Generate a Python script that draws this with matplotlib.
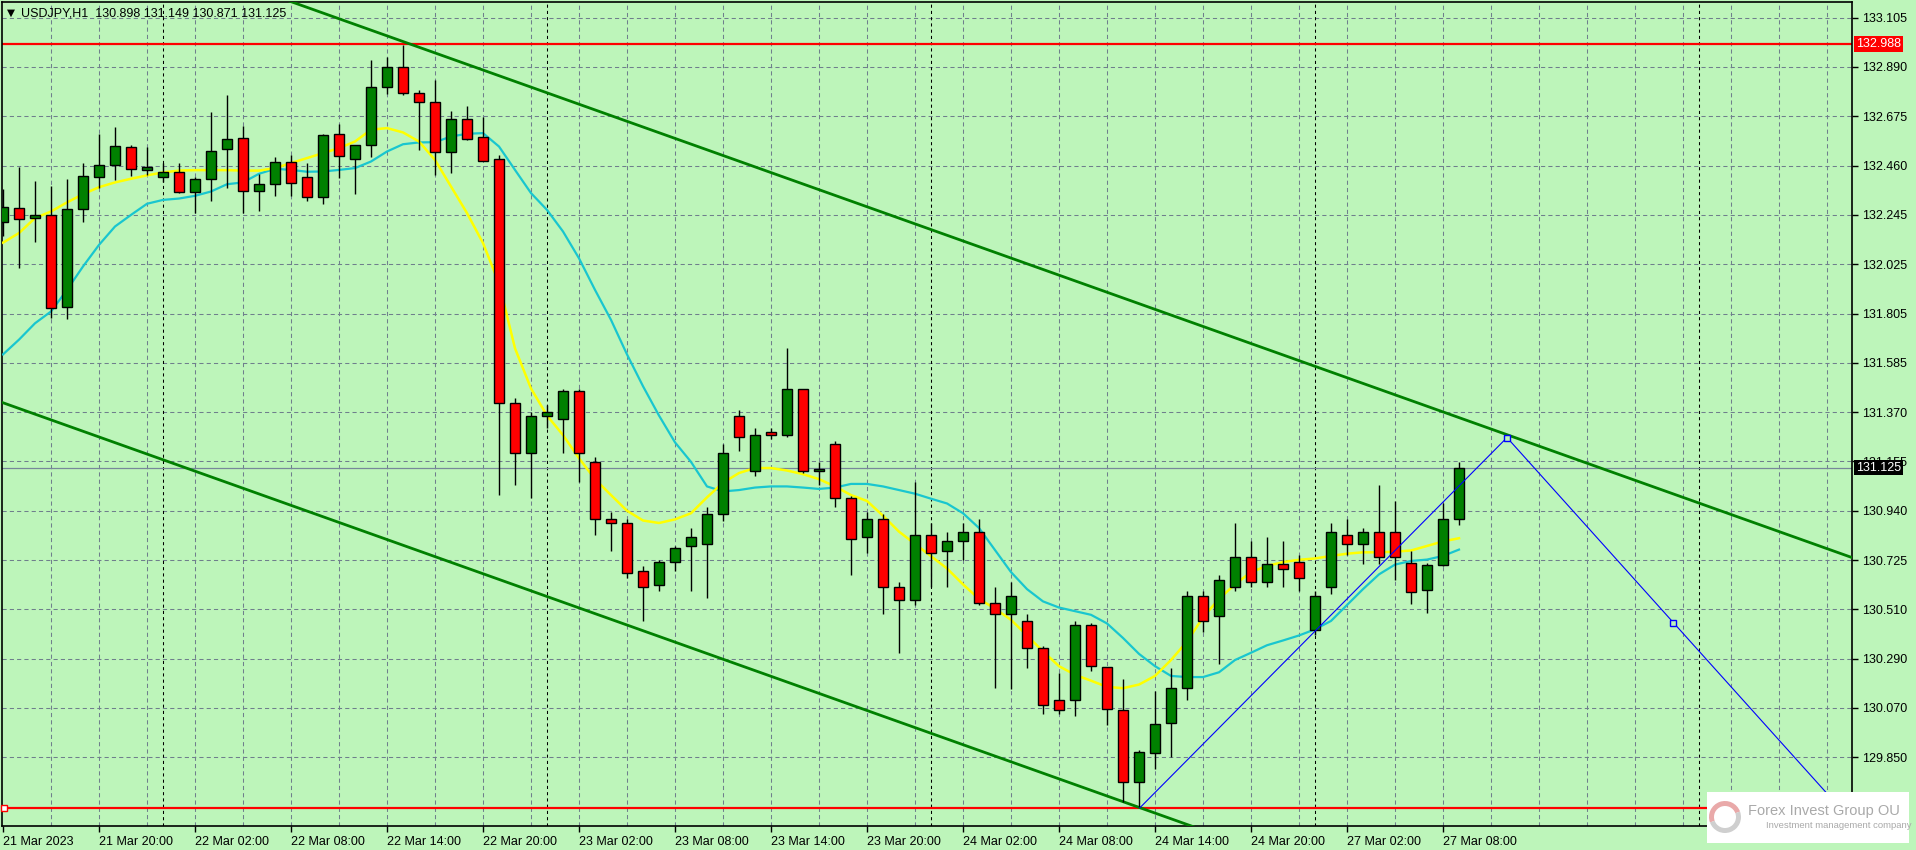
import numpy as np
import matplotlib
matplotlib.use('Agg')
import matplotlib.pyplot as plt
from matplotlib.patches import Rectangle, Wedge

plt.rcParams['font.family'] = ['Liberation Sans', 'DejaVu Sans']

# USDJPY H1, bar 0 = 21 Mar 14:00 (weekend skipped)
opens = [132.205, 132.267, 132.223, 132.237, 131.831, 132.262, 132.402, 132.456, 132.537, 132.434,
         132.403, 132.427, 132.336, 132.393, 132.526, 132.576, 132.341, 132.372, 132.469, 132.405,
         132.315, 132.594, 132.482, 132.544, 132.799, 132.888, 132.773, 132.733, 132.513, 132.659,
         132.579, 132.482, 131.410, 131.190, 131.350, 131.340, 131.460, 131.150, 130.900, 130.880,
         130.670, 130.610, 130.710, 130.780, 130.790, 130.920, 131.350, 131.110, 131.280, 131.270,
         131.470, 131.110, 131.230, 130.990, 130.820, 130.900, 130.600, 130.540, 130.830, 130.760,
         130.800, 130.840, 130.530, 130.480, 130.450, 130.330, 130.100, 130.100, 130.430, 130.246,
         130.060, 129.740, 129.870, 130.000, 130.154, 130.560, 130.470, 130.600, 130.730, 130.620,
         130.700, 130.710, 130.410, 130.600, 130.830, 130.790, 130.840, 130.840, 130.704, 130.585,
         130.695, 130.898]
highs = [132.352, 132.450, 132.387, 132.365, 132.396, 132.465, 132.594, 132.622, 132.544, 132.538,
         132.465, 132.465, 132.403, 132.692, 132.766, 132.629, 132.416, 132.494, 132.501, 132.465,
         132.592, 132.637, 132.546, 132.917, 132.932, 132.986, 132.788, 132.832, 132.695, 132.717,
         132.666, 132.500, 131.430, 131.370, 131.400, 131.470, 131.470, 131.170, 130.930, 130.900,
         130.690, 130.720, 130.780, 130.860, 130.950, 131.230, 131.380, 131.300, 131.300, 131.650,
         131.470, 131.150, 131.240, 131.000, 130.930, 130.920, 130.620, 131.060, 130.880, 130.840,
         130.880, 130.900, 130.600, 130.620, 130.480, 130.340, 130.220, 130.450, 130.440, 130.246,
         130.194, 129.880, 130.140, 130.243, 130.580, 130.580, 130.650, 130.880, 130.800, 130.820,
         130.800, 130.740, 130.580, 130.880, 130.900, 130.860, 131.050, 130.980, 130.759, 130.705,
         130.971, 131.149]
lows = [132.142, 132.002, 132.116, 131.782, 131.778, 132.204, 132.355, 132.391, 132.409, 132.413,
        132.384, 132.333, 132.245, 132.296, 132.355, 132.245, 132.256, 132.322, 132.321, 132.299,
        132.284, 132.399, 132.330, 132.494, 132.770, 132.766, 132.521, 132.413, 132.421, 132.566,
        132.474, 131.004, 131.050, 130.990, 131.300, 131.190, 131.060, 130.830, 130.760, 130.640,
        130.450, 130.580, 130.670, 130.580, 130.550, 130.890, 131.200, 131.090, 131.250, 131.260,
        131.100, 131.050, 130.950, 130.650, 130.750, 130.480, 130.310, 130.520, 130.600, 130.600,
        130.720, 130.520, 130.156, 130.150, 130.243, 130.040, 130.040, 130.030, 130.231, 129.990,
        129.655, 129.632, 129.800, 129.850, 130.100, 130.400, 130.260, 130.580, 130.600, 130.600,
        130.600, 130.580, 130.390, 130.570, 130.740, 130.700, 130.700, 130.630, 130.525, 130.484,
        130.690, 130.871]
closes = [132.271, 132.218, 132.237, 131.826, 132.262, 132.408, 132.457, 132.541, 132.438, 132.447,
          132.424, 132.337, 132.396, 132.519, 132.572, 132.341, 132.374, 132.469, 132.377, 132.315,
          132.590, 132.496, 132.544, 132.799, 132.888, 132.773, 132.733, 132.513, 132.659, 132.569,
          132.474, 131.408, 131.190, 131.350, 131.370, 131.460, 131.190, 130.900, 130.880, 130.660,
          130.600, 130.710, 130.770, 130.820, 130.920, 131.190, 131.260, 131.270, 131.270, 131.470,
          131.110, 131.120, 130.990, 130.810, 130.900, 130.600, 130.540, 130.830, 130.750, 130.800,
          130.840, 130.530, 130.480, 130.560, 130.330, 130.080, 130.060, 130.430, 130.252, 130.063,
          129.740, 129.875, 129.997, 130.154, 130.560, 130.450, 130.630, 130.730, 130.620, 130.700,
          130.680, 130.640, 130.560, 130.840, 130.790, 130.840, 130.730, 130.730, 130.579, 130.695,
          130.898, 131.125]

# yellow and cyan moving averages, one value per bar
ma_yellow = [132.115, 132.157, 132.223, 132.252, 132.292, 132.328, 132.359, 132.380, 132.396, 132.411,
             132.424, 132.432, 132.434, 132.434, 132.434, 132.432, 132.432, 132.443, 132.465, 132.487,
             132.509, 132.531, 132.560, 132.612, 132.619, 132.600, 132.560, 132.479, 132.362, 132.245,
             132.113, 131.936, 131.650, 131.473, 131.354, 131.268, 131.166, 131.074, 131.004, 130.935,
             130.892, 130.881, 130.897, 130.924, 130.994, 131.058, 131.101, 131.123, 131.123, 131.112,
             131.096, 131.074, 131.042, 131.004, 130.978, 130.913, 130.843, 130.789, 130.735, 130.681,
             130.611, 130.547, 130.504, 130.455, 130.386, 130.316, 130.251, 130.213, 130.187, 130.160,
             130.154, 130.170, 130.208, 130.278, 130.359, 130.466, 130.547, 130.611, 130.665, 130.692,
             130.709, 130.719, 130.725, 130.736, 130.746, 130.752, 130.752, 130.755, 130.760, 130.780,
             130.800, 130.814]
ma_cyan = [131.623, 131.688, 131.760, 131.812, 131.907, 132.010, 132.105, 132.186, 132.237, 132.286,
           132.303, 132.309, 132.321, 132.340, 132.372, 132.380, 132.418, 132.440, 132.435, 132.427,
           132.428, 132.435, 132.443, 132.472, 132.516, 132.548, 132.556, 132.557, 132.582, 132.594,
           132.597, 132.538, 132.435, 132.333, 132.259, 132.164, 132.046, 131.907, 131.775, 131.623,
           131.483, 131.354, 131.236, 131.150, 131.042, 131.020, 131.026, 131.037, 131.042, 131.042,
           131.037, 131.031, 131.037, 131.053, 131.053, 131.042, 131.026, 131.010, 130.988, 130.967,
           130.924, 130.859, 130.762, 130.665, 130.590, 130.536, 130.509, 130.493, 130.477, 130.439,
           130.375, 130.305, 130.251, 130.208, 130.203, 130.203, 130.224, 130.278, 130.310, 130.343,
           130.364, 130.386, 130.413, 130.450, 130.520, 130.590, 130.655, 130.698, 130.714, 130.720,
           130.736, 130.764]

price_labels = ['133.105', '132.890', '132.675', '132.460', '132.245', '132.025', '131.805', '131.585',
                '131.370', '131.155', '130.940', '130.725', '130.510', '130.290', '130.070', '129.850']
time_labels = ['21 Mar 2023', '21 Mar 20:00', '22 Mar 02:00', '22 Mar 08:00', '22 Mar 14:00',
               '22 Mar 20:00', '23 Mar 02:00', '23 Mar 08:00', '23 Mar 14:00', '23 Mar 20:00',
               '24 Mar 02:00', '24 Mar 08:00', '24 Mar 14:00', '24 Mar 20:00', '27 Mar 02:00',
               '27 Mar 08:00']
day_start_bars = [10, 34, 58, 82, 106]

resistance = 132.988
support = 129.628
last_price = 131.125
upper_channel = [(25.48, 132.988), (115.56, 130.729)]
lower_channel = [(-0.19, 131.415), (71.06, 129.628)]
zigzag = [(71.06, 129.628), (94.0, 131.257), (114.8, 129.628)]
zigzag_handles = [(94.0, 131.257), (104.4, 130.441)]

bg = '#bdf5ba'
grid_c = '#6f7f8c'
W, H = 1916, 850

fig = plt.figure(figsize=(W / 100, H / 100), dpi=100, facecolor=bg)
ax = fig.add_axes([2 / W, 24 / H, 1850 / W, 824 / H])
ax.set_facecolor(bg)
x0, x1 = -0.0625, 115.5625
ax.set_xlim(x0, x1)
ax.set_ylim(129.5475, 133.174)

# grid
ytick_pos = np.linspace(133.105, 129.850, len(price_labels))
for y in ytick_pos:
    ax.axhline(y, color=grid_c, lw=0.75, ls=(0, (4, 3)), zorder=0)
for xg in range(3, int(x1) + 1, 3):
    ax.axvline(xg, color=grid_c, lw=0.75, ls=(0, (4, 3)), zorder=0)
for xd in day_start_bars:
    ax.axvline(xd, color='black', lw=0.75, ls=(0, (3, 3)), zorder=0)

# horizontal levels
ax.axhline(last_price, color='#778899', lw=0.9, zorder=1)
ax.axhline(resistance, color='#ff0000', lw=1.6, zorder=2)
ax.axhline(support, color='#ff0000', lw=1.6, zorder=2)
ax.plot([0.05], [support], marker='s', ms=4, mfc='white', mec='red', mew=1, zorder=6, clip_on=False)

# channel lines
xs = np.array([x0, x1])
for (xa, ya), (xb, yb) in (upper_channel, lower_channel):
    k = (yb - ya) / (xb - xa)
    ax.plot(xs, ya + k * (xs - xa), color='#008000', lw=2.0, zorder=3)

# moving averages
idx = np.arange(len(opens))
ax.plot(idx, ma_cyan, color='#19c6cf', lw=1.6, zorder=4)
ax.plot(idx, ma_yellow, color='#ffff00', lw=1.8, zorder=4)

# candles
o = np.array(opens); c = np.array(closes)
hi = np.array(highs); lo = np.array(lows)
up = c >= o
ax.vlines(idx, lo, hi, color='black', lw=1.0, zorder=5)
ax.bar(idx, np.maximum(np.abs(c - o), 0.004), bottom=np.minimum(o, c), width=0.62,
       color=np.where(up, '#008000', '#ff0000'), edgecolor='black', linewidth=1.0, zorder=6)

# blue trend lines
zx, zy = zip(*zigzag)
ax.plot(zx, zy, color='#0000ff', lw=0.8, zorder=7)
hx, hy = zip(*zigzag_handles)
ax.plot(hx, hy, ls='none', marker='s', ms=4, mfc=bg, mec='#0000ff', mew=1, zorder=8)

# axes, ticks
for s in ax.spines.values():
    s.set_color('black')
    s.set_linewidth(1.2)
ax.yaxis.tick_right()
ax.set_yticks(ytick_pos)
ax.set_yticklabels(price_labels)
ax.set_xticks(np.arange(len(time_labels)) * 6)
ax.set_xticklabels(time_labels, ha='left')
ax.tick_params(axis='both', length=4, width=1, color='black', labelsize=9, pad=3)

# price tags
ytr = ax.get_yaxis_transform()
for val, fc in ((resistance, '#ff0000'), (last_price, 'black'), (support, '#ff0000')):
    ax.text(1.002, val, f'{val:.3f}', transform=ytr, color='white', fontsize=9, va='center', ha='left',
            bbox=dict(boxstyle='square,pad=0.15', fc=fc, ec='none'), clip_on=False, zorder=10)

# title
fig.text(7 / W, 1 - 13 / H, '\u25bc', fontsize=7.5, va='center', family='DejaVu Sans')
fig.text(21 / W, 1 - 13 / H, 'USDJPY,H1  130.898 131.149 130.871 131.125', fontsize=9, va='center')

# logo box
la = fig.add_axes([1707 / W, 7 / H, 202 / W, 51 / H])
la.set_xlim(0, 202)
la.set_ylim(0, 51)
la.axis('off')
la.add_patch(Rectangle((0, 0), 202, 51, fc='white', ec='none'))
la.add_patch(Wedge((18, 26), 16, 20, 200, width=5, fc='#e9a9a9', ec='none'))
la.add_patch(Wedge((18, 26), 16, 200, 20, width=5, fc='#cfcfcf', ec='none'))
la.text(41, 32, 'Forex Invest Group OU', fontsize=10.5, color='#a9a9a9', va='center')
la.text(59, 17, 'Investment management company', fontsize=6.8, color='#a9a9a9', va='center')

fig.savefig('out.png', dpi=100, facecolor=bg)
